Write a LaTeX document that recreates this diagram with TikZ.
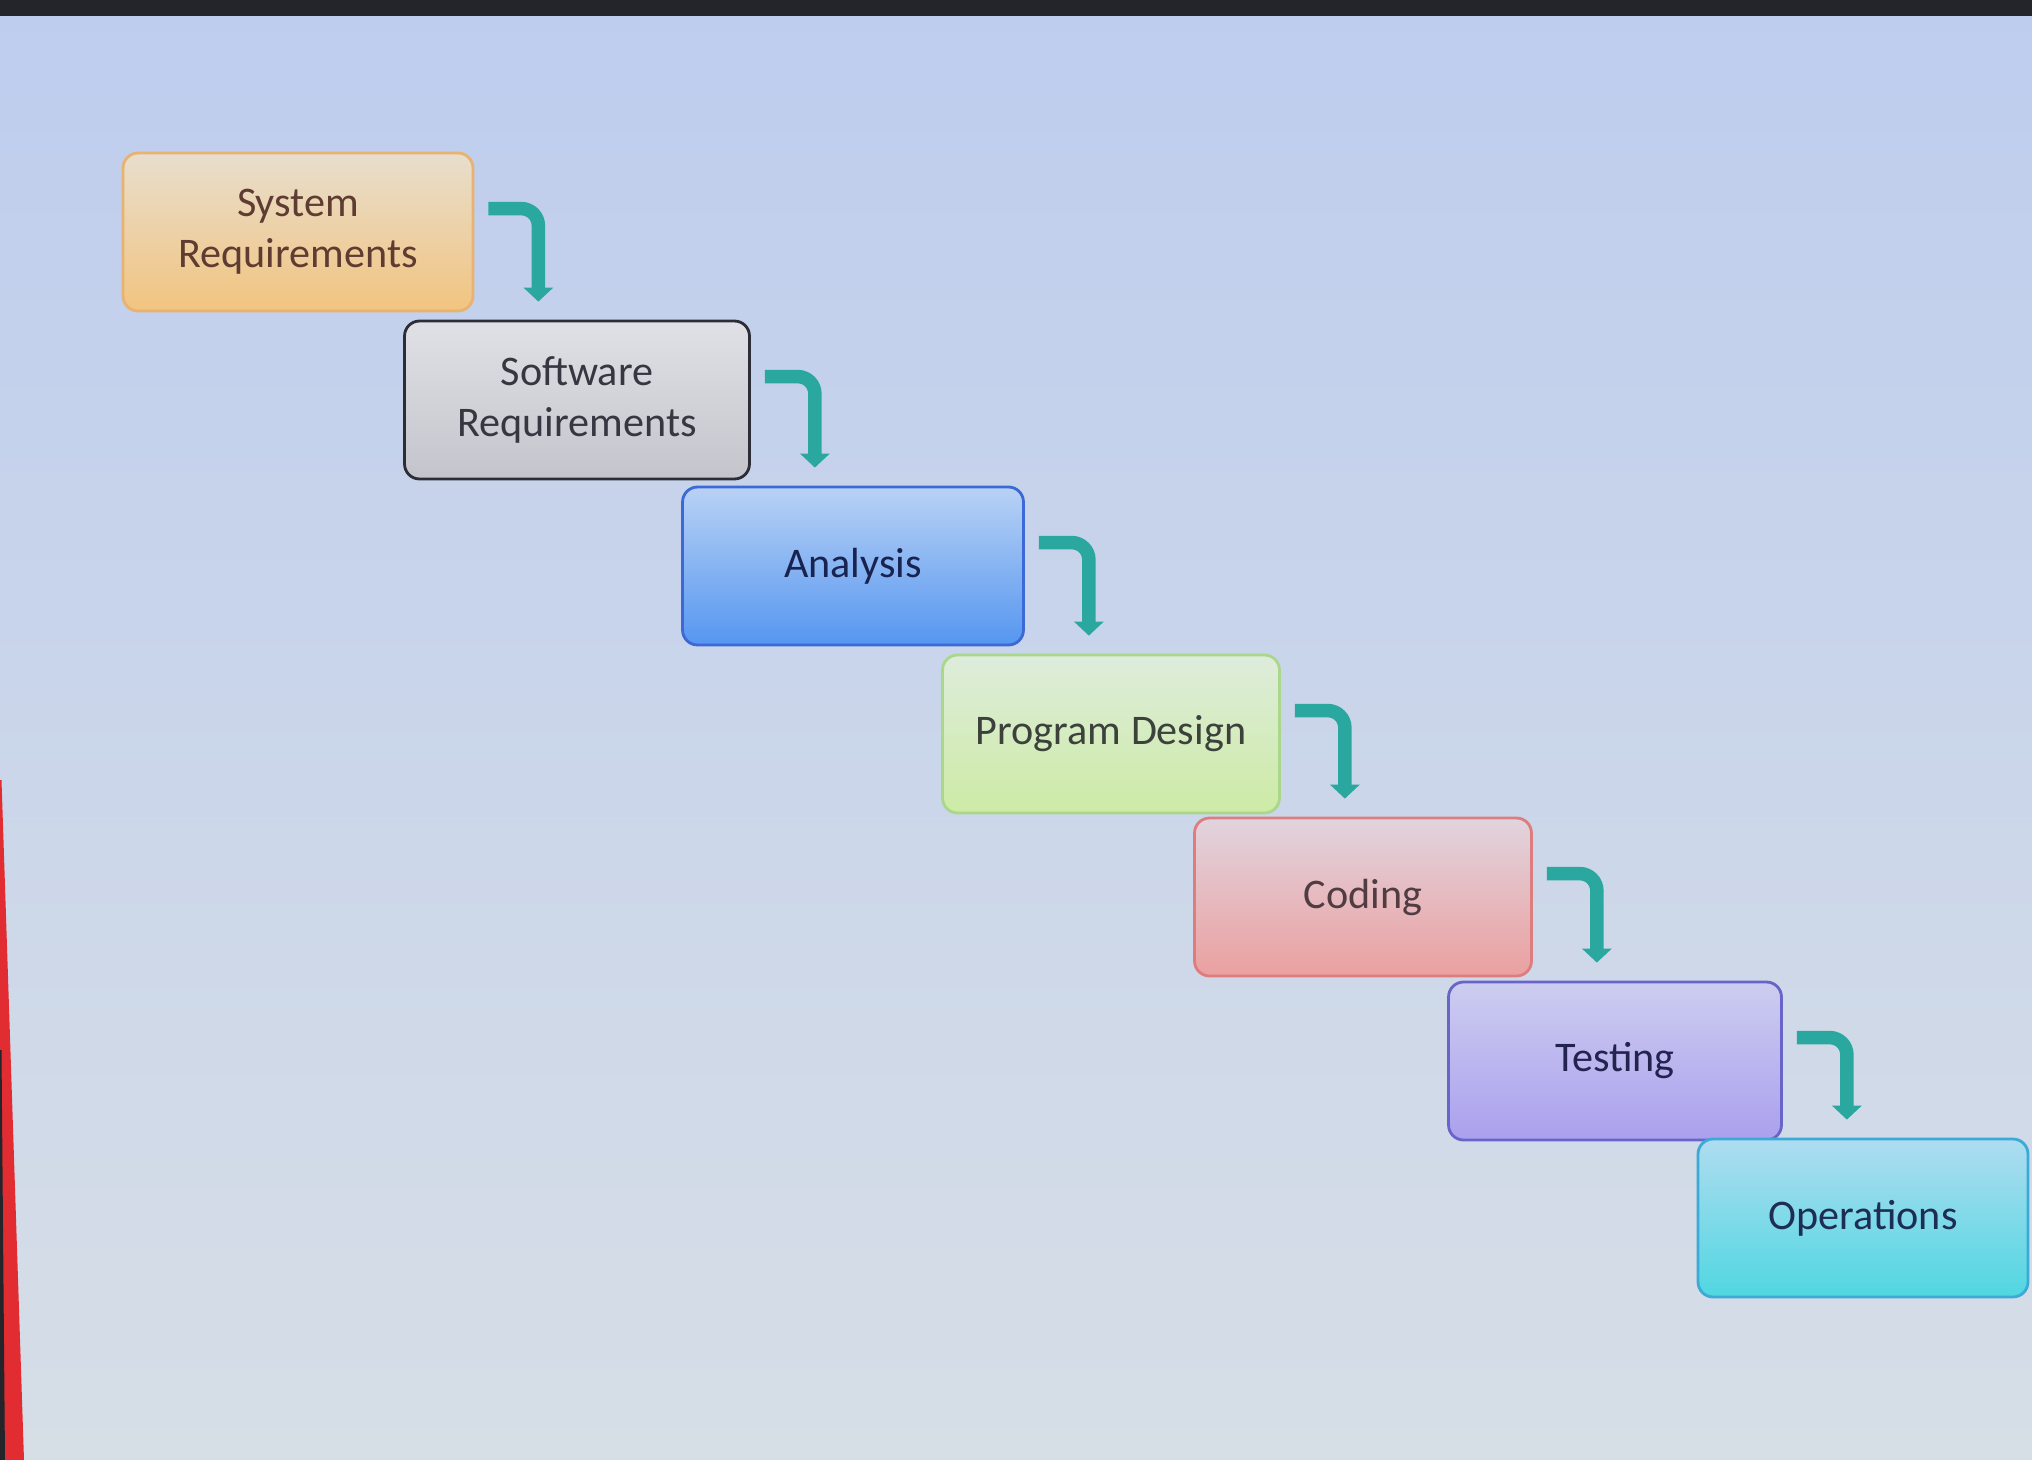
\documentclass[tikz,border=0pt]{standalone}
\usepackage{fontspec}
\setmainfont{Carlito}
\usetikzlibrary{arrows.meta,calc}
\definecolor{flowc}{RGB}{42,168,160}
\definecolor{bgtop}{RGB}{190,205,238}
\definecolor{bgbot}{RGB}{214,222,230}
\definecolor{band}{RGB}{35,37,42}
\definecolor{redstrip}{RGB}{225,45,50}
\definecolor{sysT}{RGB}{232,222,205}\definecolor{sysB}{RGB}{242,196,128}\definecolor{sysD}{RGB}{232,178,112}\definecolor{sysX}{RGB}{95,60,50}
\definecolor{swT}{RGB}{224,224,230}\definecolor{swB}{RGB}{196,196,204}\definecolor{swD}{RGB}{45,45,55}\definecolor{swX}{RGB}{55,55,65}
\definecolor{anT}{RGB}{185,210,245}\definecolor{anB}{RGB}{85,150,240}\definecolor{anD}{RGB}{60,105,215}\definecolor{anX}{RGB}{25,35,80}
\definecolor{pdT}{RGB}{222,236,220}\definecolor{pdB}{RGB}{205,235,165}\definecolor{pdD}{RGB}{170,215,140}\definecolor{pdX}{RGB}{60,65,60}
\definecolor{cdT}{RGB}{225,212,222}\definecolor{cdB}{RGB}{235,160,160}\definecolor{cdD}{RGB}{222,125,125}\definecolor{cdX}{RGB}{80,60,65}
\definecolor{tsT}{RGB}{205,205,240}\definecolor{tsB}{RGB}{170,160,238}\definecolor{tsD}{RGB}{105,100,200}\definecolor{tsX}{RGB}{35,35,80}
\definecolor{opT}{RGB}{175,220,240}\definecolor{opB}{RGB}{80,215,225}\definecolor{opD}{RGB}{60,170,215}\definecolor{opX}{RGB}{30,45,85}
\begin{document}
\begin{tikzpicture}[x=0.02cm,y=-0.02cm,
  stage/.style={rounded corners=0.3cm, line width=1.6pt, minimum height=3.16cm,
    align=center, inner sep=0pt, font=\fontsize{24}{29}\selectfont},
  flow/.style={draw=flowc, line width=0.27cm, rounded corners=0.34cm,
    -{Triangle[width=0.58cm,length=0.28cm]}}]
\useasboundingbox (0,0) rectangle (2032,1460);
\fill[top color=bgtop, bottom color=bgbot] (0,0) rectangle (2032,1460);
\fill[band] (0,0) rectangle (2032,16);
\fill[redstrip] (0,780) -- (1.5,780) -- (24,1460) -- (0,1460) -- cycle;
\fill[band] (0,1050) -- (1.5,1050) -- (5,1460) -- (0,1460) -- cycle;

\node[stage, minimum width=7.0cm, draw=sysD, top color=sysT, bottom color=sysB, text=sysX] (s1) at (298,232) {System\\Requirements};
\node[stage, minimum width=6.9cm, draw=swD, top color=swT, bottom color=swB, text=swX] (s2) at (577,400) {Software\\Requirements};
\node[stage, minimum width=6.82cm, draw=anD, top color=anT, bottom color=anB, text=anX] (s3) at (853,566) {Analysis};
\node[stage, minimum width=6.74cm, draw=pdD, top color=pdT, bottom color=pdB, text=pdX] (s4) at (1111,734) {Program Design};
\node[stage, minimum width=6.74cm, draw=cdD, top color=cdT, bottom color=cdB, text=cdX] (s5) at (1363,897) {Coding};
\node[stage, minimum width=6.66cm, draw=tsD, top color=tsT, bottom color=tsB, text=tsX] (s6) at (1615,1061) {Testing};
\node[stage, minimum width=6.6cm, draw=opD, top color=opT, bottom color=opB, text=opX] (s7) at (1863,1218) {Operations};

\foreach \a/\b in {s1/s2,s2/s3,s3/s4,s4/s5,s5/s6,s6/s7}
  \draw[flow] ([shift={(14,57)}]\a.north east) -| ($(\a.north east |- \b.north)+(64,-18)$);
\end{tikzpicture}
\end{document}
